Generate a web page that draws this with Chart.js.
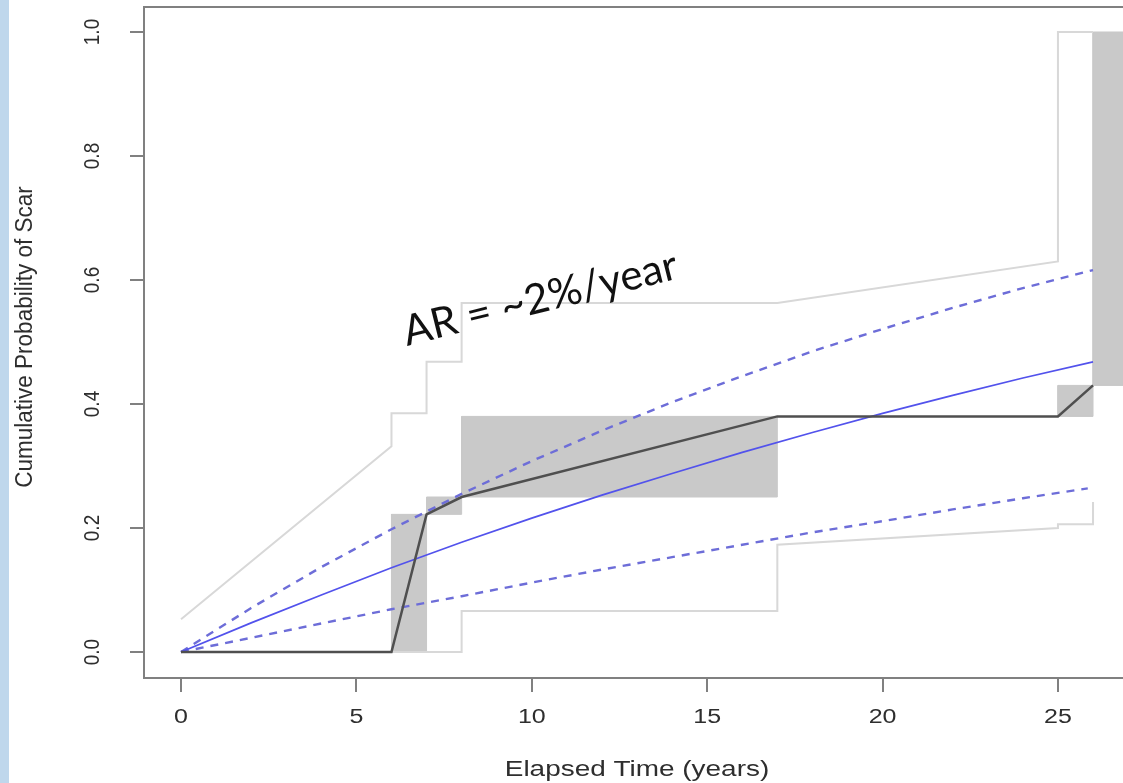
<!DOCTYPE html>
<html>
<head>
<meta charset="utf-8">
<title>Cumulative Probability of Scar</title>
<script src="https://cdn.jsdelivr.net/npm/chart.js@4.4.0/dist/chart.umd.min.js"></script>
<style>
    html, body { margin: 0; padding: 0; overflow: hidden; background: #fff; }
    #scarChart { position: absolute; left: 0; top: 0; }
    #strip { position: absolute; left: 0; top: 0; width: 9px; height: 783px; background: #bfd7ec; }
</style>
</head>
<body>
<canvas id="scarChart" width="1126" height="783"></canvas>
<div id="strip"></div>
<script>
const xTicks = [0, 5, 10, 15, 20, 25];
const yTicks = [0, 0.2, 0.4, 0.6, 0.8, 1.0];

// step estimate (dark line)
const kmTime = [0, 6, 7, 8, 17, 25, 26];
const kmProb = [0, 0, 0.222, 0.25, 0.38, 0.38, 0.43];

// grey boxes around the estimate
const boxStart = [6, 7, 8, 25, 26];
const boxEnd = [7, 8, 17, 26, 27.5];
const boxLow = [0, 0.222, 0.25, 0.38, 0.43];
const boxHigh = [0.222, 0.25, 0.38, 0.43, 1.0];

// light grey outer band
const upperTime = [0, 6, 6, 7, 7, 8, 8, 17, 25, 25, 26];
const upperProb = [0.053, 0.332, 0.385, 0.385, 0.468, 0.468, 0.563, 0.563, 0.63, 1.0, 1.0];
const lowerTime = [0, 8, 8, 17, 17, 25, 25, 26, 26];
const lowerProb = [0, 0, 0.066, 0.066, 0.173, 0.2, 0.206, 0.206, 0.242];

// blue fitted curve and its dashed limits
const fitTime = [0, 2, 4, 6, 8, 10, 12, 14, 16, 18, 20, 22, 24, 26];
const fitProb = [0, 0.047, 0.092, 0.136, 0.177, 0.216, 0.253, 0.288, 0.322, 0.354, 0.385, 0.414, 0.442, 0.468];
const fitHigh = [0, 0.071, 0.137, 0.198, 0.255, 0.308, 0.357, 0.403, 0.445, 0.485, 0.521, 0.555, 0.587, 0.616];
const lowTime = [0, 2, 4, 6, 8, 10, 12, 14, 16, 18, 20, 22, 24, 25.85];
const fitLow = [0, 0.023, 0.046, 0.069, 0.090, 0.112, 0.133, 0.153, 0.173, 0.193, 0.211, 0.230, 0.248, 0.264];

const pts = (xs, ys) => xs.map((x, i) => ({ x: x, y: ys[i] }));

const datasets = [
    { data: pts(kmTime, kmProb), borderColor: '#4f4f4f', borderWidth: 2.5, order: 1 },
    { data: pts(fitTime, fitProb), borderColor: '#5252ec', borderWidth: 1.7, order: 2 },
    { data: pts(fitTime, fitHigh), borderColor: '#6d6dd8', borderWidth: 2.4, borderDash: [8, 7], order: 3 },
    { data: pts(lowTime, fitLow), borderColor: '#6d6dd8', borderWidth: 2.4, borderDash: [8, 7], order: 3 },
    { data: pts(upperTime, upperProb), borderColor: '#d8d8d8', borderWidth: 2, order: 4 },
    { data: pts(lowerTime, lowerProb), borderColor: '#d8d8d8', borderWidth: 2, order: 4 }
];

boxStart.forEach((s, i) => {
    datasets.push({
        data: [
            { x: s, y: boxLow[i] }, { x: boxEnd[i], y: boxLow[i] },
            { x: boxEnd[i], y: boxHigh[i] }, { x: s, y: boxHigh[i] }, { x: s, y: boxLow[i] }
        ],
        borderColor: '#c9c9c9',
        borderWidth: 1,
        backgroundColor: '#c9c9c9',
        fill: 'shape',
        order: 10
    });
});

function drawText(ctx, text, x, y, font, sx, rot, align, base, color) {
    ctx.save();
    ctx.translate(x, y);
    ctx.scale(sx, 1);
    ctx.rotate(rot);
    ctx.font = font;
    ctx.fillStyle = color;
    ctx.textAlign = align;
    ctx.textBaseline = base;
    ctx.fillText(text, 0, 0);
    ctx.restore();
}

const framePlugin = {
    id: 'frame',
    afterDraw(chart) {
        const ctx = chart.ctx;
        const a = chart.chartArea;
        const xs = chart.scales.x;
        const ys = chart.scales.y;

        ctx.save();
        ctx.strokeStyle = '#808080';
        ctx.lineWidth = 2;
        ctx.strokeRect(a.left, a.top, a.right - a.left, a.bottom - a.top);
        ctx.restore();

        yTicks.forEach(v => {
            drawText(ctx, v.toFixed(1), 93, ys.getPixelForValue(v), '19px "Liberation Sans"', 1.2, -Math.PI / 2, 'center', 'middle', '#2e2e2e');
        });
        xTicks.forEach(v => {
            drawText(ctx, String(v), xs.getPixelForValue(v), 717, '20px "Liberation Sans"', 1.25, 0, 'center', 'middle', '#2e2e2e');
        });

        drawText(ctx, 'Elapsed Time (years)', 637, 770, '22px "Liberation Sans"', 1.27, 0, 'center', 'middle', '#2e2e2e');
        drawText(ctx, 'Cumulative Probability of Scar', 25, 337, '22.5px "Liberation Sans"', 1.05, -Math.PI / 2, 'center', 'middle', '#2e2e2e');

        drawText(ctx, 'AR = ~2%/year', 407, 346, '42px Lato', 1, -14 * Math.PI / 180, 'left', 'alphabetic', '#111');
    }
};

const ctx = document.getElementById('scarChart').getContext('2d');
const scarChart = new Chart(ctx, {
    type: 'line',
    data: { datasets: datasets },
    options: {
        responsive: false,
        animation: false,
        layout: { padding: { top: 7, left: 0, right: 0, bottom: 0 } },
        elements: { point: { radius: 0 }, line: { tension: 0 } },
        plugins: { legend: { display: false }, tooltip: { enabled: false } },
        scales: {
            x: {
                type: 'linear',
                min: -1.055,
                max: 26.94,
                afterFit: s => { s.height = 105; },
                afterBuildTicks: s => { s.ticks = xTicks.map(v => ({ value: v })); },
                grid: { drawOnChartArea: false, tickLength: 14, color: '#808080', lineWidth: 2 },
                border: { display: false },
                ticks: { display: false }
            },
            y: {
                type: 'linear',
                min: -0.0419,
                max: 1.0403,
                afterFit: s => { s.width = 144; },
                afterBuildTicks: s => { s.ticks = yTicks.map(v => ({ value: v })); },
                grid: { drawOnChartArea: false, tickLength: 14, color: '#808080', lineWidth: 2 },
                border: { display: false },
                ticks: { display: false }
            }
        }
    },
    plugins: [framePlugin]
});
</script>
</body>
</html>
